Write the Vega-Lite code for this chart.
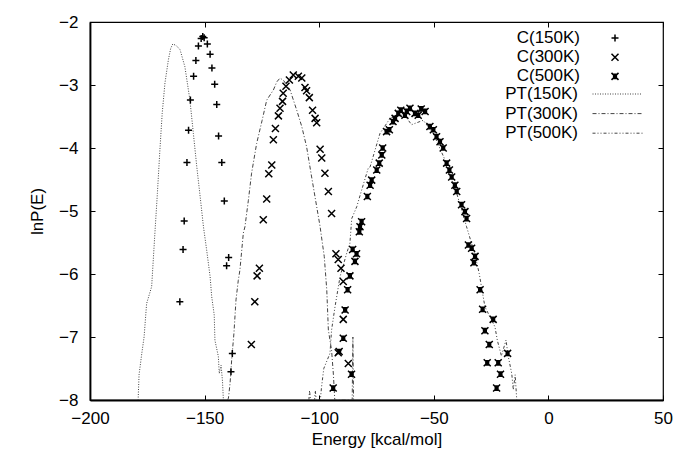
{
  "$schema": "https://vega.github.io/schema/vega-lite/v6.json",
  "width": 573,
  "height": 378,
  "autosize": {"type": "none"},
  "padding": {"left": 90, "top": 22, "right": 10, "bottom": 55},
  "background": "white",
  "config": {
    "view": {"stroke": "black", "strokeWidth": 1.2},
    "font": "Liberation Sans",
    "axis": {
      "labelFont": "Liberation Sans",
      "labelFontSize": 17,
      "labelColor": "black",
      "labelFlush": false,
      "titleFont": "Liberation Sans",
      "titleFontSize": 17,
      "titleFontWeight": "normal",
      "titleColor": "black",
      "tickColor": "black",
      "tickSize": -5,
      "tickWidth": 1,
      "grid": false,
      "domain": false
    },
    "legend": {
      "labelFont": "Liberation Sans",
      "labelFontSize": 17,
      "labelColor": "black",
      "labelLimit": 300,
      "padding": 0
    }
  },
  "datasets": {
    "C": [
      {"E": -150.8, "lnP": -2.23, "series": "C(150K)"},
      {"E": -151.5, "lnP": -2.26, "series": "C(150K)"},
      {"E": -150.2, "lnP": -2.25, "series": "C(150K)"},
      {"E": -152.7, "lnP": -2.38, "series": "C(150K)"},
      {"E": -148.8, "lnP": -2.35, "series": "C(150K)"},
      {"E": -153.8, "lnP": -2.61, "series": "C(150K)"},
      {"E": -147.6, "lnP": -2.51, "series": "C(150K)"},
      {"E": -154.8, "lnP": -2.86, "series": "C(150K)"},
      {"E": -146.8, "lnP": -2.73, "series": "C(150K)"},
      {"E": -156.2, "lnP": -3.24, "series": "C(150K)"},
      {"E": -145.6, "lnP": -2.99, "series": "C(150K)"},
      {"E": -144.7, "lnP": -3.31, "series": "C(150K)"},
      {"E": -157.0, "lnP": -3.72, "series": "C(150K)"},
      {"E": -143.9, "lnP": -3.81, "series": "C(150K)"},
      {"E": -157.7, "lnP": -4.23, "series": "C(150K)"},
      {"E": -142.5, "lnP": -4.23, "series": "C(150K)"},
      {"E": -141.4, "lnP": -4.84, "series": "C(150K)"},
      {"E": -158.9, "lnP": -5.16, "series": "C(150K)"},
      {"E": -159.4, "lnP": -5.61, "series": "C(150K)"},
      {"E": -160.8, "lnP": -6.44, "series": "C(150K)"},
      {"E": -139.5, "lnP": -5.74, "series": "C(150K)"},
      {"E": -140.4, "lnP": -5.87, "series": "C(150K)"},
      {"E": -137.9, "lnP": -7.26, "series": "C(150K)"},
      {"E": -138.5, "lnP": -7.55, "series": "C(150K)"},
      {"E": -111.3, "lnP": -2.84, "series": "C(300K)"},
      {"E": -109.1, "lnP": -2.86, "series": "C(300K)"},
      {"E": -107.6, "lnP": -2.89, "series": "C(300K)"},
      {"E": -113.0, "lnP": -2.92, "series": "C(300K)"},
      {"E": -114.5, "lnP": -3.02, "series": "C(300K)"},
      {"E": -106.2, "lnP": -3.04, "series": "C(300K)"},
      {"E": -105.5, "lnP": -3.09, "series": "C(300K)"},
      {"E": -115.7, "lnP": -3.13, "series": "C(300K)"},
      {"E": -104.3, "lnP": -3.2, "series": "C(300K)"},
      {"E": -116.0, "lnP": -3.26, "series": "C(300K)"},
      {"E": -117.1, "lnP": -3.37, "series": "C(300K)"},
      {"E": -117.8, "lnP": -3.49, "series": "C(300K)"},
      {"E": -102.9, "lnP": -3.4, "series": "C(300K)"},
      {"E": -101.8, "lnP": -3.53, "series": "C(300K)"},
      {"E": -101.1, "lnP": -3.6, "series": "C(300K)"},
      {"E": -119.1, "lnP": -3.69, "series": "C(300K)"},
      {"E": -120.0, "lnP": -3.87, "series": "C(300K)"},
      {"E": -99.6, "lnP": -4.02, "series": "C(300K)"},
      {"E": -98.9, "lnP": -4.16, "series": "C(300K)"},
      {"E": -120.7, "lnP": -4.27, "series": "C(300K)"},
      {"E": -122.0, "lnP": -4.41, "series": "C(300K)"},
      {"E": -97.5, "lnP": -4.4, "series": "C(300K)"},
      {"E": -96.0, "lnP": -4.69, "series": "C(300K)"},
      {"E": -122.9, "lnP": -4.81, "series": "C(300K)"},
      {"E": -94.6, "lnP": -5.04, "series": "C(300K)"},
      {"E": -124.4, "lnP": -5.14, "series": "C(300K)"},
      {"E": -126.1, "lnP": -5.91, "series": "C(300K)"},
      {"E": -127.1, "lnP": -6.03, "series": "C(300K)"},
      {"E": -128.1, "lnP": -6.44, "series": "C(300K)"},
      {"E": -129.6, "lnP": -7.12, "series": "C(300K)"},
      {"E": -92.7, "lnP": -5.68, "series": "C(300K)"},
      {"E": -91.7, "lnP": -5.77, "series": "C(300K)"},
      {"E": -90.5, "lnP": -5.91, "series": "C(300K)"},
      {"E": -89.5, "lnP": -6.12, "series": "C(300K)"},
      {"E": -89.5, "lnP": -6.72, "series": "C(300K)"},
      {"E": -91.7, "lnP": -7.25, "series": "C(300K)"},
      {"E": -87.3, "lnP": -7.42, "series": "C(300K)"},
      {"E": -66.9, "lnP": -3.53, "series": "C(500K)"},
      {"E": -67.8, "lnP": -3.58, "series": "C(500K)"},
      {"E": -65.5, "lnP": -3.45, "series": "C(500K)"},
      {"E": -64.4, "lnP": -3.4, "series": "C(500K)"},
      {"E": -62.6, "lnP": -3.48, "series": "C(500K)"},
      {"E": -61.8, "lnP": -3.42, "series": "C(500K)"},
      {"E": -60.4, "lnP": -3.37, "series": "C(500K)"},
      {"E": -58.2, "lnP": -3.45, "series": "C(500K)"},
      {"E": -56.8, "lnP": -3.48, "series": "C(500K)"},
      {"E": -55.5, "lnP": -3.38, "series": "C(500K)"},
      {"E": -53.8, "lnP": -3.42, "series": "C(500K)"},
      {"E": -51.7, "lnP": -3.66, "series": "C(500K)"},
      {"E": -50.2, "lnP": -3.71, "series": "C(500K)"},
      {"E": -48.8, "lnP": -3.82, "series": "C(500K)"},
      {"E": -47.3, "lnP": -3.9, "series": "C(500K)"},
      {"E": -45.9, "lnP": -4.0, "series": "C(500K)"},
      {"E": -44.4, "lnP": -4.24, "series": "C(500K)"},
      {"E": -43.2, "lnP": -4.35, "series": "C(500K)"},
      {"E": -42.2, "lnP": -4.46, "series": "C(500K)"},
      {"E": -40.8, "lnP": -4.59, "series": "C(500K)"},
      {"E": -40.0, "lnP": -4.69, "series": "C(500K)"},
      {"E": -37.9, "lnP": -4.9, "series": "C(500K)"},
      {"E": -36.4, "lnP": -5.01, "series": "C(500K)"},
      {"E": -35.7, "lnP": -5.12, "series": "C(500K)"},
      {"E": -34.9, "lnP": -5.54, "series": "C(500K)"},
      {"E": -33.5, "lnP": -5.59, "series": "C(500K)"},
      {"E": -32.0, "lnP": -5.72, "series": "C(500K)"},
      {"E": -32.5, "lnP": -5.82, "series": "C(500K)"},
      {"E": -29.8, "lnP": -6.25, "series": "C(500K)"},
      {"E": -28.7, "lnP": -6.56, "series": "C(500K)"},
      {"E": -24.1, "lnP": -6.72, "series": "C(500K)"},
      {"E": -27.7, "lnP": -6.9, "series": "C(500K)"},
      {"E": -25.8, "lnP": -7.12, "series": "C(500K)"},
      {"E": -26.7, "lnP": -7.41, "series": "C(500K)"},
      {"E": -21.9, "lnP": -7.41, "series": "C(500K)"},
      {"E": -17.8, "lnP": -7.26, "series": "C(500K)"},
      {"E": -20.9, "lnP": -7.59, "series": "C(500K)"},
      {"E": -22.6, "lnP": -7.81, "series": "C(500K)"},
      {"E": -69.4, "lnP": -3.71, "series": "C(500K)"},
      {"E": -70.6, "lnP": -3.74, "series": "C(500K)"},
      {"E": -72.3, "lnP": -4.0, "series": "C(500K)"},
      {"E": -72.7, "lnP": -4.11, "series": "C(500K)"},
      {"E": -73.8, "lnP": -4.24, "series": "C(500K)"},
      {"E": -74.9, "lnP": -4.35, "series": "C(500K)"},
      {"E": -77.1, "lnP": -4.51, "series": "C(500K)"},
      {"E": -77.8, "lnP": -4.59, "series": "C(500K)"},
      {"E": -79.0, "lnP": -4.77, "series": "C(500K)"},
      {"E": -81.5, "lnP": -5.17, "series": "C(500K)"},
      {"E": -82.2, "lnP": -5.25, "series": "C(500K)"},
      {"E": -82.5, "lnP": -5.33, "series": "C(500K)"},
      {"E": -85.4, "lnP": -5.61, "series": "C(500K)"},
      {"E": -83.7, "lnP": -5.68, "series": "C(500K)"},
      {"E": -84.4, "lnP": -5.8, "series": "C(500K)"},
      {"E": -86.6, "lnP": -6.03, "series": "C(500K)"},
      {"E": -87.6, "lnP": -6.25, "series": "C(500K)"},
      {"E": -88.7, "lnP": -6.57, "series": "C(500K)"},
      {"E": -89.5, "lnP": -7.02, "series": "C(500K)"},
      {"E": -91.3, "lnP": -7.23, "series": "C(500K)"},
      {"E": -85.9, "lnP": -7.59, "series": "C(500K)"},
      {"E": -93.9, "lnP": -7.81, "series": "C(500K)"}
    ],
    "PT": [
      {"E": -179.0, "lnP": -8.0, "series": "PT(150K)"},
      {"E": -178.6, "lnP": -7.6, "series": "PT(150K)"},
      {"E": -177.4, "lnP": -7.26, "series": "PT(150K)"},
      {"E": -176.4, "lnP": -7.0, "series": "PT(150K)"},
      {"E": -175.3, "lnP": -6.47, "series": "PT(150K)"},
      {"E": -173.1, "lnP": -6.2, "series": "PT(150K)"},
      {"E": -171.6, "lnP": -5.3, "series": "PT(150K)"},
      {"E": -170.6, "lnP": -4.72, "series": "PT(150K)"},
      {"E": -169.5, "lnP": -4.03, "series": "PT(150K)"},
      {"E": -168.5, "lnP": -3.45, "series": "PT(150K)"},
      {"E": -167.3, "lnP": -2.97, "series": "PT(150K)"},
      {"E": -165.8, "lnP": -2.6, "series": "PT(150K)"},
      {"E": -164.8, "lnP": -2.42, "series": "PT(150K)"},
      {"E": -163.9, "lnP": -2.35, "series": "PT(150K)"},
      {"E": -162.5, "lnP": -2.37, "series": "PT(150K)"},
      {"E": -160.7, "lnP": -2.44, "series": "PT(150K)"},
      {"E": -158.6, "lnP": -2.71, "series": "PT(150K)"},
      {"E": -156.4, "lnP": -3.24, "series": "PT(150K)"},
      {"E": -154.9, "lnP": -3.77, "series": "PT(150K)"},
      {"E": -153.4, "lnP": -4.3, "series": "PT(150K)"},
      {"E": -151.7, "lnP": -4.85, "series": "PT(150K)"},
      {"E": -150.5, "lnP": -5.25, "series": "PT(150K)"},
      {"E": -149.1, "lnP": -5.62, "series": "PT(150K)"},
      {"E": -147.6, "lnP": -6.04, "series": "PT(150K)"},
      {"E": -146.9, "lnP": -6.36, "series": "PT(150K)"},
      {"E": -145.8, "lnP": -6.65, "series": "PT(150K)"},
      {"E": -145.5, "lnP": -7.05, "series": "PT(150K)"},
      {"E": -144.0, "lnP": -7.31, "series": "PT(150K)"},
      {"E": -143.6, "lnP": -7.58, "series": "PT(150K)"},
      {"E": -142.8, "lnP": -7.45, "series": "PT(150K)"},
      {"E": -142.2, "lnP": -7.7, "series": "PT(150K)"},
      {"E": -141.8, "lnP": -8.0, "series": "PT(150K)"},
      {"E": -140.0, "lnP": -8.0, "series": "PT(300K)"},
      {"E": -139.6, "lnP": -7.97, "series": "PT(300K)"},
      {"E": -138.9, "lnP": -7.74, "series": "PT(300K)"},
      {"E": -138.2, "lnP": -7.37, "series": "PT(300K)"},
      {"E": -137.2, "lnP": -6.94, "series": "PT(300K)"},
      {"E": -136.3, "lnP": -6.41, "series": "PT(300K)"},
      {"E": -135.3, "lnP": -6.1, "series": "PT(300K)"},
      {"E": -134.6, "lnP": -5.94, "series": "PT(300K)"},
      {"E": -133.1, "lnP": -5.35, "series": "PT(300K)"},
      {"E": -132.4, "lnP": -5.25, "series": "PT(300K)"},
      {"E": -130.9, "lnP": -4.83, "series": "PT(300K)"},
      {"E": -129.5, "lnP": -4.4, "series": "PT(300K)"},
      {"E": -127.3, "lnP": -3.93, "series": "PT(300K)"},
      {"E": -124.9, "lnP": -3.56, "series": "PT(300K)"},
      {"E": -122.9, "lnP": -3.24, "series": "PT(300K)"},
      {"E": -120.0, "lnP": -3.08, "series": "PT(300K)"},
      {"E": -118.5, "lnP": -2.95, "series": "PT(300K)"},
      {"E": -117.1, "lnP": -2.89, "series": "PT(300K)"},
      {"E": -115.5, "lnP": -2.93, "series": "PT(300K)"},
      {"E": -112.7, "lnP": -3.08, "series": "PT(300K)"},
      {"E": -109.8, "lnP": -3.4, "series": "PT(300K)"},
      {"E": -107.6, "lnP": -3.66, "series": "PT(300K)"},
      {"E": -105.5, "lnP": -3.98, "series": "PT(300K)"},
      {"E": -103.3, "lnP": -4.46, "series": "PT(300K)"},
      {"E": -101.1, "lnP": -4.93, "series": "PT(300K)"},
      {"E": -99.6, "lnP": -5.25, "series": "PT(300K)"},
      {"E": -99.0, "lnP": -5.41, "series": "PT(300K)"},
      {"E": -97.8, "lnP": -5.72, "series": "PT(300K)"},
      {"E": -96.7, "lnP": -6.25, "series": "PT(300K)"},
      {"E": -96.0, "lnP": -6.89, "series": "PT(300K)"},
      {"E": -94.6, "lnP": -7.21, "series": "PT(300K)"},
      {"E": -93.8, "lnP": -7.6, "series": "PT(300K)"},
      {"E": -93.2, "lnP": -8.0, "series": "PT(300K)"},
      {"E": -85.6, "lnP": -8.0, "series": "PT(300K)"},
      {"E": -85.3, "lnP": -7.0, "series": "PT(300K)"},
      {"E": -85.0, "lnP": -8.0, "series": "PT(300K)"},
      {"E": -104.5, "lnP": -8.0, "series": "PT(500K)"},
      {"E": -104.2, "lnP": -7.85, "series": "PT(500K)"},
      {"E": -103.8, "lnP": -8.0, "series": "PT(500K)"},
      {"E": -102.0, "lnP": -8.0, "series": "PT(500K)"},
      {"E": -101.7, "lnP": -7.85, "series": "PT(500K)"},
      {"E": -101.3, "lnP": -8.0, "series": "PT(500K)"},
      {"E": -99.5, "lnP": -8.0, "series": "PT(500K)"},
      {"E": -99.0, "lnP": -7.8, "series": "PT(500K)"},
      {"E": -98.0, "lnP": -7.5, "series": "PT(500K)"},
      {"E": -95.3, "lnP": -7.26, "series": "PT(500K)"},
      {"E": -94.6, "lnP": -6.89, "series": "PT(500K)"},
      {"E": -93.1, "lnP": -6.52, "series": "PT(500K)"},
      {"E": -90.9, "lnP": -6.04, "series": "PT(500K)"},
      {"E": -88.0, "lnP": -5.67, "series": "PT(500K)"},
      {"E": -86.6, "lnP": -5.51, "series": "PT(500K)"},
      {"E": -85.8, "lnP": -5.12, "series": "PT(500K)"},
      {"E": -83.6, "lnP": -4.93, "series": "PT(500K)"},
      {"E": -81.5, "lnP": -4.67, "series": "PT(500K)"},
      {"E": -78.6, "lnP": -4.32, "series": "PT(500K)"},
      {"E": -77.8, "lnP": -4.3, "series": "PT(500K)"},
      {"E": -73.5, "lnP": -3.77, "series": "PT(500K)"},
      {"E": -69.1, "lnP": -3.53, "series": "PT(500K)"},
      {"E": -63.3, "lnP": -3.45, "series": "PT(500K)"},
      {"E": -59.7, "lnP": -3.63, "series": "PT(500K)"},
      {"E": -54.6, "lnP": -3.56, "series": "PT(500K)"},
      {"E": -50.2, "lnP": -3.77, "series": "PT(500K)"},
      {"E": -45.1, "lnP": -4.19, "series": "PT(500K)"},
      {"E": -40.0, "lnP": -4.72, "series": "PT(500K)"},
      {"E": -35.7, "lnP": -5.25, "series": "PT(500K)"},
      {"E": -32.0, "lnP": -5.7, "series": "PT(500K)"},
      {"E": -30.2, "lnP": -5.99, "series": "PT(500K)"},
      {"E": -27.7, "lnP": -6.52, "series": "PT(500K)"},
      {"E": -23.3, "lnP": -6.84, "series": "PT(500K)"},
      {"E": -22.3, "lnP": -7.05, "series": "PT(500K)"},
      {"E": -20.5, "lnP": -7.3, "series": "PT(500K)"},
      {"E": -18.5, "lnP": -7.05, "series": "PT(500K)"},
      {"E": -17.5, "lnP": -7.31, "series": "PT(500K)"},
      {"E": -16.0, "lnP": -7.58, "series": "PT(500K)"},
      {"E": -15.3, "lnP": -7.84, "series": "PT(500K)"},
      {"E": -14.5, "lnP": -7.6, "series": "PT(500K)"},
      {"E": -13.8, "lnP": -8.0, "series": "PT(500K)"}
    ]
  },
  "layer": [
    {
      "data": {"name": "PT"},
      "mark": {"type": "line", "color": "#444", "strokeWidth": 1, "clip": true},
      "encoding": {
        "x": {"field": "E", "type": "quantitative", "scale": {"domain": [-200, 50], "nice": false, "zero": false},
              "axis": {"orient": "top", "labels": false, "title": null, "values": [-200, -150, -100, -50, 0, 50]}},
        "y": {"field": "lnP", "type": "quantitative", "scale": {"domain": [-8, -2], "nice": false, "zero": false},
              "axis": {"orient": "right", "labels": false, "title": null, "values": [-8, -7, -6, -5, -4, -3, -2]}},
        "strokeDash": {"field": "series", "type": "nominal",
          "scale": {"domain": ["PT(150K)", "PT(300K)", "PT(500K)"], "range": [[1, 1.5], [4, 2, 1, 2], [3, 2, 1, 2, 1, 2]]},
          "legend": {"title": null, "orient": "none", "legendX": 519, "legendY": 63.5, "symbolType": "M-5,0H5", "symbolSize": 100,
                     "symbolStrokeColor": "#444", "symbolFillColor": "transparent", "symbolStrokeWidth": 1, "labelAlign": "right", "labelOffset": -48,
                     "rowPadding": 1.6}}
      }
    },
    {
      "data": {"name": "C"},
      "mark": {"type": "point", "filled": false, "color": "black", "strokeWidth": 1.5, "opacity": 1, "size": 49},
      "encoding": {
        "x": {"field": "E", "type": "quantitative", "title": "Energy [kcal/mol]",
              "axis": {"orient": "bottom", "values": [-200, -150, -100, -50, 0, 50], "labelPadding": 15, "titlePadding": 5,
                       "domain": true, "domainColor": "black", "domainWidth": 1.8}},
        "y": {"field": "lnP", "type": "quantitative", "title": "lnP(E)",
              "axis": {"orient": "left", "values": [-8, -7, -6, -5, -4, -3, -2], "labelPadding": 17, "titlePadding": 12,
                       "domain": true, "domainColor": "black", "domainWidth": 1.8}},
        "shape": {"field": "series", "type": "nominal",
          "scale": {"domain": ["C(150K)", "C(300K)", "C(500K)"],
                    "range": ["M-1,0H1M0,-1V1", "M-1,-1L1,1M-1,1L1,-1", "M-1,-1L1,1M-1,1L1,-1M-0.6,-0.6H0.6M-0.6,-0.4H0.6M-0.6,-0.2H0.6M-0.6,0H0.6M-0.6,0.2H0.6M-0.6,0.4H0.6M-0.6,0.6H0.6"]},
          "legend": {"title": null, "orient": "none", "legendX": 516.5, "legendY": 7.5, "symbolSize": 49,
                     "symbolStrokeColor": "black", "symbolStrokeWidth": 1.5,
                     "labelAlign": "right", "labelOffset": -43.5, "rowPadding": 1.2}}
      }
    }
  ],
  "resolve": {"axis": {"x": "independent", "y": "independent"}}
}
